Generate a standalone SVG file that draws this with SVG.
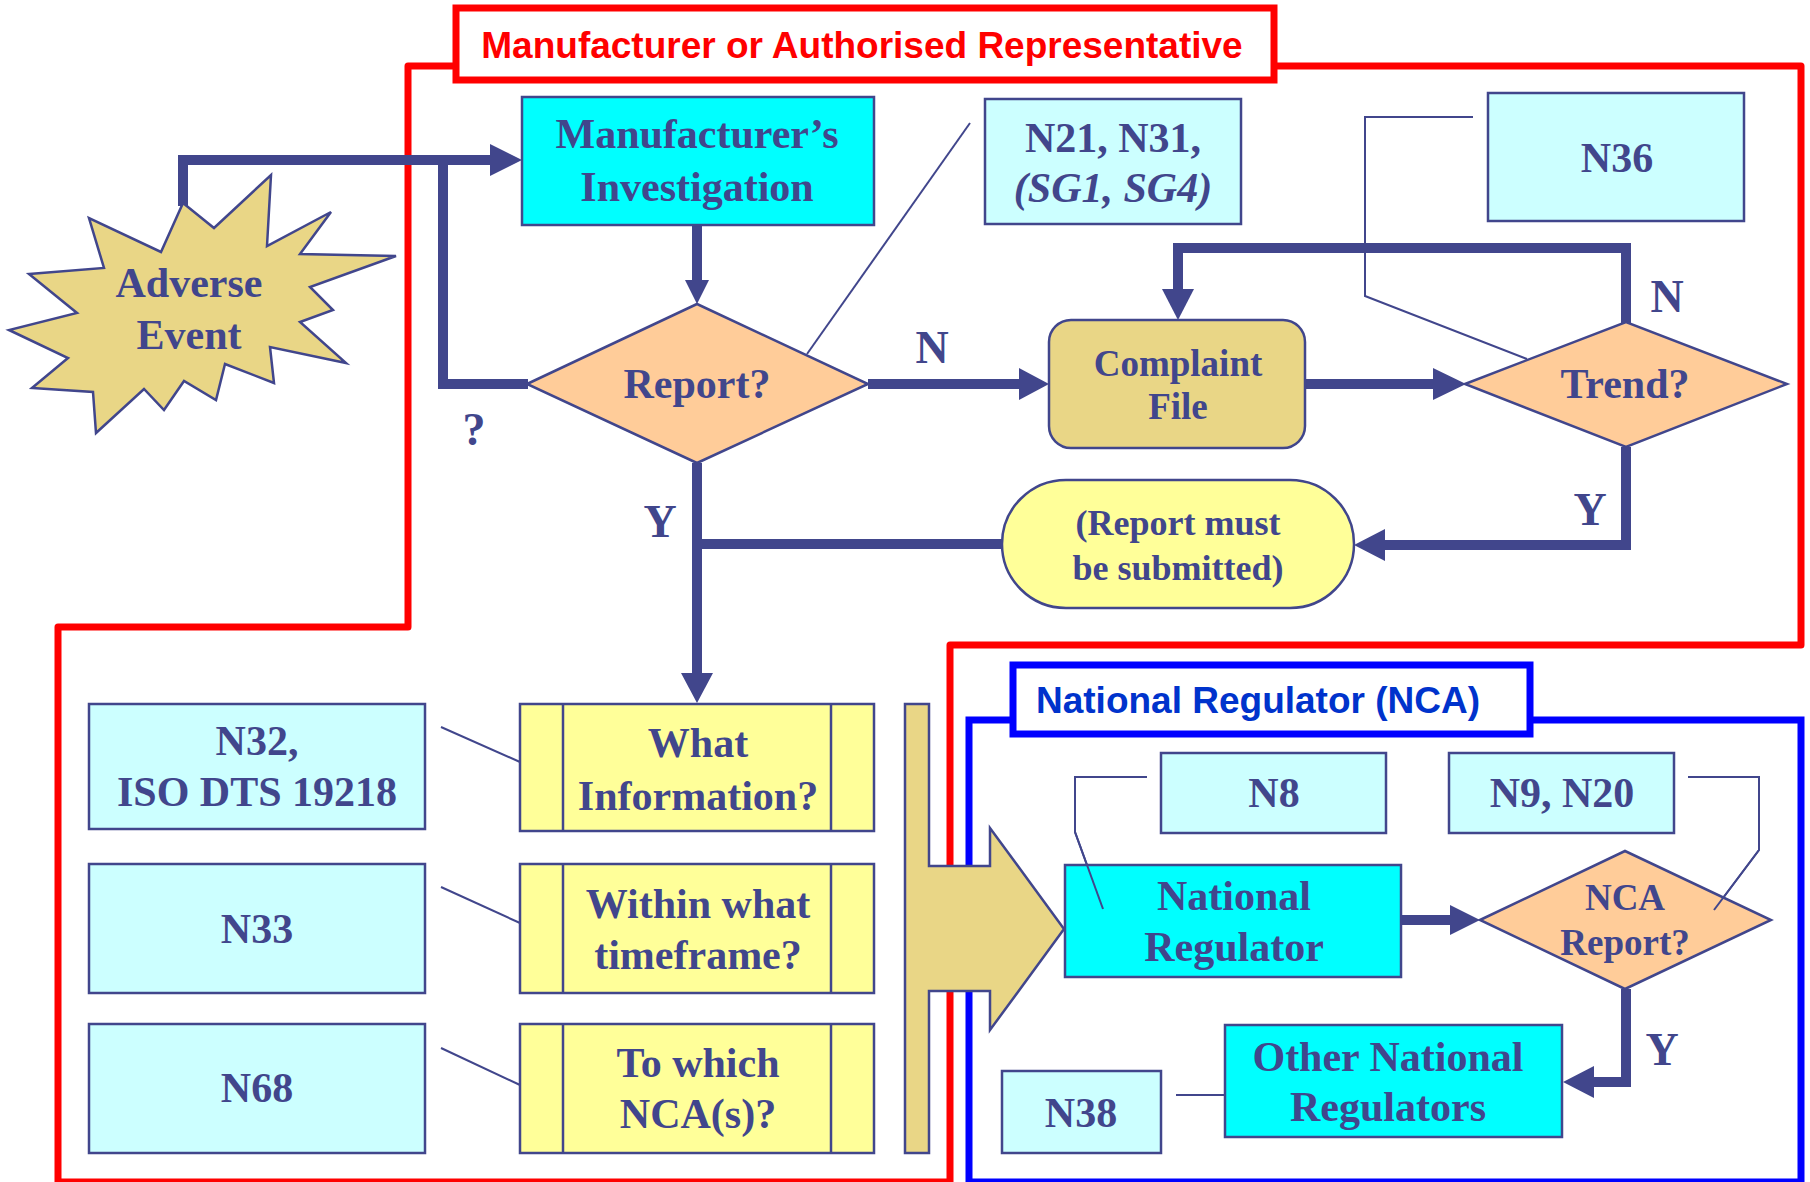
<svg xmlns="http://www.w3.org/2000/svg" width="1810" height="1182" viewBox="0 0 1810 1182">
<style>
.t{font-family:"Liberation Serif","Times New Roman",serif;font-weight:bold;fill:#41468C;text-anchor:middle;font-size:42px}
.s37{font-size:37px}
.s36{font-size:36px}
.lbl{font-size:46px}
.it{font-style:italic}
.hd{font-family:"Liberation Sans",Arial,sans-serif;font-weight:bold;font-size:37px}
.thick{fill:none;stroke:#41468C;stroke-width:10}
.thin{fill:none;stroke:#41468C;stroke-width:2}
.ah{fill:#41468C}
.bx{stroke:#41468C;stroke-width:2.5}
.cy{fill:#00FFFF}
.lc{fill:#CCFFFF}
.yl{fill:#FFFF99}
.or{fill:#FFCC99}
.kh{fill:#E9D686}
</style>
<rect width="1810" height="1182" fill="#FFFFFF"/>

<!-- Manufacturer boundary -->
<g id="boundary-manufacturer">
  <path d="M456,66 L408,66 L408,627 L58,627 L58,1182 L950,1182 L950,645 L1801,645 L1801,66 L1274,66" fill="none" stroke="#FF0000" stroke-width="7" stroke-linejoin="round"/>
  <rect x="456" y="8" width="818" height="72" fill="#FFFFFF" stroke="#FF0000" stroke-width="7"/>
  <text x="862" y="58" class="hd" fill="#FF0000" text-anchor="middle">Manufacturer or Authorised Representative</text>
</g>

<!-- NCA boundary -->
<g id="boundary-nca">
  <path d="M1013,720 L969,720 L969,1182 L1801,1182 L1801,720 L1530,720" fill="none" stroke="#0000FF" stroke-width="7"/>
  <rect x="1013" y="665" width="517" height="69" fill="#FFFFFF" stroke="#0000FF" stroke-width="7"/>
  <text x="1258" y="713" class="hd" fill="#0033CC" text-anchor="middle">National Regulator (NCA)</text>
</g>

<!-- Connectors -->
<g id="connectors">
  <path class="thick" d="M183,206 L183,160 L492,160"/>
  <polygon class="ah" points="490,144 522,160 490,176"/>
  <path class="thick" d="M528,384 L443,384 L443,160"/>
  <path class="thick" d="M697,225 L697,282"/>
  <polygon class="ah" points="685,280 697,304 709,280"/>
  <path class="thick" d="M868,384 L1021,384"/>
  <polygon class="ah" points="1019,368 1049,384 1019,400"/>
  <path class="thick" d="M1304,384 L1435,384"/>
  <polygon class="ah" points="1433,368 1466,384 1433,400"/>
  <path class="thick" d="M1626,323 L1626,248 L1178,248 L1178,291"/>
  <polygon class="ah" points="1162,289 1178,320 1194,289"/>
  <path class="thick" d="M1626,447 L1626,545 L1383,545"/>
  <polygon class="ah" points="1385,529 1354,545 1385,561"/>
  <path class="thick" d="M1003,544 L697,544"/>
  <path class="thick" d="M697,463 L697,675"/>
  <polygon class="ah" points="681,673 697,703 713,673"/>
  <path class="thick" d="M1401,920 L1452,920"/>
  <polygon class="ah" points="1450,905 1480,920 1450,935"/>
  <path class="thick" d="M1626,989 L1626,1082 L1592,1082"/>
  <polygon class="ah" points="1594,1066 1563,1082 1594,1098"/>

  <path class="thin" d="M807,354 L970,123"/>
  <path class="thin" d="M1473,117 L1365,117 L1365,296 L1527,359"/>
  <path class="thin" d="M441,727 L520,762"/>
  <path class="thin" d="M441,887 L520,923"/>
  <path class="thin" d="M441,1048 L520,1085"/>
  <path class="thin" d="M1147,777 L1075,777 L1075,832 L1103,909"/>
  <path class="thin" d="M1688,777 L1759,777 L1759,850 L1714,910"/>
  <path class="thin" d="M1176,1095 L1264,1095"/>

  <text class="t lbl" x="474" y="445">?</text>
  <text class="t lbl" x="932" y="363">N</text>
  <text class="t lbl" x="1667" y="312">N</text>
  <text class="t lbl" x="1590" y="525">Y</text>
  <text class="t lbl" x="660" y="537">Y</text>
  <text class="t lbl" x="1662" y="1065">Y</text>
</g>

<!-- Big transfer arrow -->
<g id="transfer-arrow">
  <polygon class="kh bx" stroke-width="2" points="905,704 929,704 929,866 990,866 990,828 1064,929 990,1030 990,991 929,991 929,1153 905,1153"/>
</g>

<g id="adverse-event">
  <polygon class="kh bx" points="183,203 214,228 271,175 267,246 331,212 300,254 396,256 310,287 333,310 300,322 346,363 270,347 274,383 225,364 216,400 184,381 164,410 144,389 96,433 93,392 32,388 68,358 9,330 77,313 29,274 104,268 89,218 161,252"/>
  <text class="t" x="189" y="297">Adverse</text>
  <text class="t" x="189" y="349">Event</text>
</g>

<g id="manufacturers-investigation">
  <rect class="cy bx" x="522" y="97" width="352" height="128"/>
  <text class="t" x="697" y="148">Manufacturer’s</text>
  <text class="t" x="697" y="201">Investigation</text>
</g>

<g id="report-decision">
  <polygon class="or bx" points="527,384 697,304 868,384 697,463"/>
  <text class="t" x="697" y="398">Report?</text>
</g>

<g id="ref-n21">
  <rect class="lc bx" x="985" y="99" width="256" height="125"/>
  <text class="t" x="1113" y="152">N21, N31,</text>
  <text class="t" x="1113" y="202"><tspan class="it">(SG1, SG4)</tspan></text>
</g>

<g id="ref-n36">
  <rect class="lc bx" x="1488" y="93" width="256" height="128"/>
  <text class="t" x="1617" y="172">N36</text>
</g>

<g id="complaint-file">
  <rect class="kh bx" x="1049" y="320" width="256" height="128" rx="22"/>
  <text class="t s37" x="1178" y="376">Complaint</text>
  <text class="t s37" x="1178" y="419">File</text>
</g>

<g id="trend-decision">
  <polygon class="or bx" points="1465,384 1626,322 1787,384 1626,447"/>
  <text class="t" x="1625" y="398">Trend?</text>
</g>

<g id="report-must-be-submitted">
  <rect class="yl bx" x="1002" y="480" width="352" height="128" rx="64"/>
  <text class="t s36" x="1178" y="535">(Report must</text>
  <text class="t s36" x="1178" y="580">be submitted)</text>
</g>

<g id="ref-n32">
  <rect class="lc bx" x="89" y="704" width="336" height="125"/>
  <text class="t" x="257" y="755">N32,</text>
  <text class="t" x="257" y="806">ISO DTS 19218</text>
</g>
<g id="ref-n33">
  <rect class="lc bx" x="89" y="864" width="336" height="129"/>
  <text class="t" x="257" y="943">N33</text>
</g>
<g id="ref-n68">
  <rect class="lc bx" x="89" y="1024" width="336" height="129"/>
  <text class="t" x="257" y="1102">N68</text>
</g>

<g id="what-information">
  <rect class="yl bx" x="520" y="704" width="354" height="127"/>
  <line class="bx" x1="563" y1="704" x2="563" y2="831"/>
  <line class="bx" x1="831" y1="704" x2="831" y2="831"/>
  <text class="t" x="698" y="757">What</text>
  <text class="t" x="698" y="810">Information?</text>
</g>
<g id="within-what-timeframe">
  <rect class="yl bx" x="520" y="864" width="354" height="129"/>
  <line class="bx" x1="563" y1="864" x2="563" y2="993"/>
  <line class="bx" x1="831" y1="864" x2="831" y2="993"/>
  <text class="t" x="698" y="918">Within what</text>
  <text class="t" x="698" y="969">timeframe?</text>
</g>
<g id="to-which-nca">
  <rect class="yl bx" x="520" y="1024" width="354" height="129"/>
  <line class="bx" x1="563" y1="1024" x2="563" y2="1153"/>
  <line class="bx" x1="831" y1="1024" x2="831" y2="1153"/>
  <text class="t" x="698" y="1077">To which</text>
  <text class="t" x="698" y="1128">NCA(s)?</text>
</g>

<g id="ref-n8">
  <rect class="lc bx" x="1161" y="753" width="225" height="80"/>
  <text class="t" x="1274" y="807">N8</text>
</g>
<g id="ref-n9">
  <rect class="lc bx" x="1449" y="753" width="225" height="80"/>
  <text class="t" x="1562" y="807">N9, N20</text>
</g>

<g id="national-regulator">
  <rect class="cy bx" x="1065" y="865" width="336" height="112"/>
  <path class="thin" d="M1075,832 L1103,909"/>
  <text class="t" x="1234" y="910">National</text>
  <text class="t" x="1234" y="961">Regulator</text>
</g>

<g id="nca-report-decision">
  <polygon class="or bx" points="1480,920 1625,851 1771,920 1625,989"/>
  <path class="thin" d="M1759,850 L1714,910"/>
  <text class="t s37" x="1625" y="910">NCA</text>
  <text class="t s37" x="1625" y="955">Report?</text>
</g>

<g id="other-national-regulators">
  <rect class="cy bx" x="1225" y="1025" width="337" height="112"/>
  <text class="t" x="1388" y="1071">Other National</text>
  <text class="t" x="1388" y="1121">Regulators</text>
</g>

<g id="ref-n38">
  <rect class="lc bx" x="1002" y="1071" width="159" height="82"/>
  <text class="t" x="1081" y="1127">N38</text>
</g>
</svg>
